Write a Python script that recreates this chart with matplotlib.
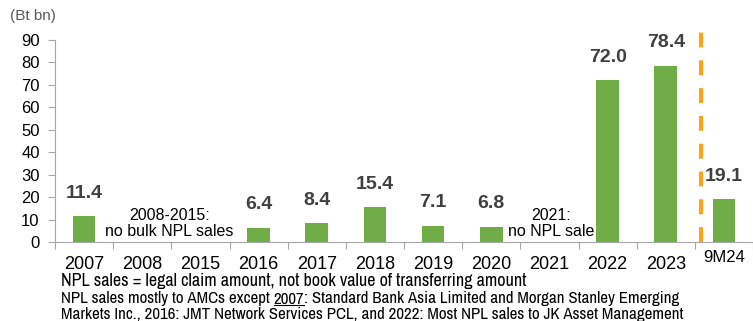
import matplotlib.pyplot as plt
import numpy as np
from matplotlib import font_manager

categories = ["2007", "2008", "2015", "2016", "2017", "2018", "2019", "2020",
              "2021", "2022", "2023", "9M24"]
values = [11.4, np.nan, np.nan, 6.4, 8.4, 15.4, 7.1, 6.8, np.nan, 72.0, 78.4, 19.1]
y_ticks = [0, 10, 20, 30, 40, 50, 60, 70, 80, 90]

note_1 = "NPL sales = legal claim amount, not book value of transferring amount"
note_2 = ["NPL sales mostly to AMCs except ", "2007",
          ": Standard Bank Asia Limited and Morgan Stanley Emerging"]
note_3 = "Markets Inc., 2016: JMT Network Services PCL, and 2022: Most NPL sales to JK Asset Management"

BAR_COLOR = "#70AD47"
DASH_COLOR = "#FFA21A"
LABEL_COLOR = "#404040"
SPINE_COLOR = "#A6A6A6"

plt.rcParams["font.family"] = ["Liberation Sans", "DejaVu Sans"]
narrow = [f.name for f in font_manager.fontManager.ttflist if "Narrow" in f.name]
note_family = [narrow[0]] if narrow else ["Liberation Sans"]
note_size_1 = 13 if narrow else 10.5
note_size_2 = 12.2 if narrow else 10

fig = plt.figure(figsize=(7.53, 3.21), dpi=100)
ax = fig.add_axes([55 / 753, 1 - 242 / 321, 1 - 55 / 753, (242 - 40) / 321])

x = np.arange(len(categories))
ax.bar(x, values, width=0.39, color=BAR_COLOR, zorder=2)

for xi, v in zip(x, values):
    if np.isnan(v):
        continue
    ax.text(xi, v + 6.5, f"{v:.1f}", ha="center", va="bottom", fontsize=14,
            fontweight="bold", color=LABEL_COLOR)

ax.set_ylim(0, 90)
ax.set_xlim(-0.5, -0.5 + (753 - 55) / 58.5)
ax.set_yticks(y_ticks)
ax.tick_params(axis="y", direction="out", length=5, color=SPINE_COLOR,
               labelsize=12, pad=6)

ax.set_xticks(np.arange(len(categories) + 1) - 0.5)
ax.set_xticklabels([])
ax.tick_params(axis="x", which="major", direction="out", length=5, color=SPINE_COLOR)
ax.set_xticks(x[:-1], minor=True)
ax.set_xticklabels(categories[:-1], minor=True, fontsize=13)
ax.tick_params(axis="x", which="minor", length=0, pad=10)
# 9M24 sits a little higher and smaller than the year labels
ax.text(x[-1], -7.0, categories[-1], ha="center", va="center", fontsize=12)

for side in ["top", "right"]:
    ax.spines[side].set_visible(False)
for side in ["left", "bottom"]:
    ax.spines[side].set_color(SPINE_COLOR)

# separator between full years and 9M24
ax.plot([10.61, 10.61], [0, 96.3], color=DASH_COLOR, linewidth=2.9,
        dashes=(3.7, 3.2), clip_on=False, zorder=3)

ax.text(1.47, 8.2, "2008-2015:\nno bulk NPL sales", ha="center", va="center",
        fontsize=11.5, linespacing=1.15)
ax.text(8.03, 8.2, "2021:\nno NPL sale", ha="center", va="center",
        fontsize=11.5, linespacing=1.15, zorder=4)

fig.text(10 / 753, 1 - 16 / 321, "(Bt bn)", fontsize=11, color="#595959",
         va="center")

# footnotes
left = 61 / 753
fig.text(left, 1 - 281 / 321, note_1, fontsize=note_size_1, family=note_family,
         va="center")
fig.canvas.draw()
renderer = fig.canvas.get_renderer()
xpos = left
ypos = 1 - 299 / 321
for i, part in enumerate(note_2):
    t = fig.text(xpos, ypos, part, fontsize=note_size_2, family=note_family, va="center")
    bb = t.get_window_extent(renderer)
    if i == 1:
        uy = bb.y0 / fig.bbox.height + 0.006
        fig.add_artist(plt.Line2D([bb.x0 / fig.bbox.width, bb.x1 / fig.bbox.width],
                                  [uy, uy], color="black", linewidth=0.8,
                                  transform=fig.transFigure))
    xpos = bb.x1 / fig.bbox.width
fig.text(left, 1 - 314 / 321, note_3, fontsize=note_size_2, family=note_family,
         va="center")

fig.savefig("out.png", dpi=100)
